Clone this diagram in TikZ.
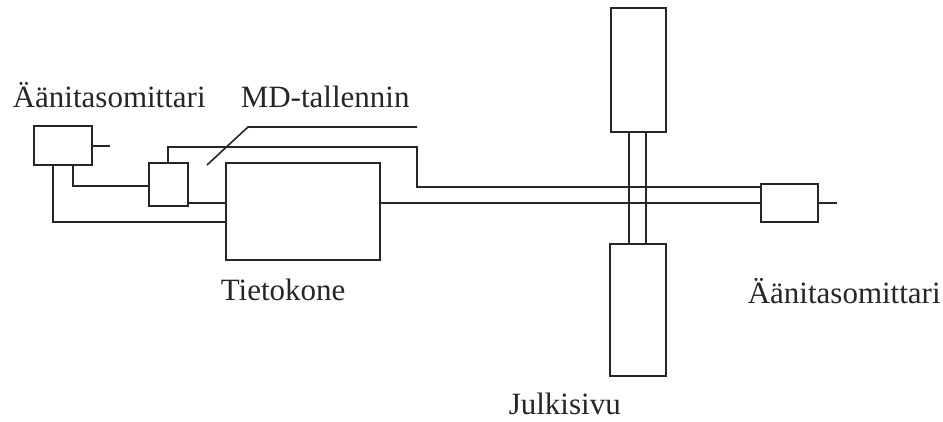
\documentclass[tikz,border=0pt]{standalone}
\usepackage{fontspec}
\setmainfont{Liberation Serif}
\begin{document}
\begin{tikzpicture}[x=1pt,y=-1pt, line width=1.6pt, draw=black!85, text=black!85,
  box/.style={draw, inner sep=0pt, outer sep=0pt},
  lbl/.style={anchor=base west, inner sep=0pt, font=\fontsize{31}{36}\selectfont}]
\useasboundingbox[fill=white] (0,0) rectangle (943,421);
% boxes
\node[box, minimum width=58pt, minimum height=39pt]  (mL) at (63,145.5) {};
\node[box, minimum width=39pt, minimum height=43pt]  (md) at (168.5,184.5) {};
\node[box, minimum width=154pt, minimum height=97pt] (pc) at (303,211.5) {};
\node[box, minimum width=55pt, minimum height=124pt] (wt) at (638.5,70) {};
\node[box, minimum width=17pt, minimum height=112pt] (wn) at (637.5,188) {};
\node[box, minimum width=56pt, minimum height=132pt] (wb) at (638,310) {};
\node[box, minimum width=57pt, minimum height=38pt]  (mR) at (789.5,203) {};
% labels
\node[lbl] (tL) at (12,107) {Äänitasomittari};
\node[lbl] (tMD) at (240,107) {MD-tallennin};
\node[lbl] (tPC) at (220,300) {Tietokone};
\node[lbl] (tR) at (747,303) {Äänitasomittari};
\node[lbl] (tJ) at (508,414) {Julkisivu};
% connectors
\coordinate (s1) at (110,146);
\draw (mL.east |- s1) -- (s1);
\coordinate (a1) at (73,186);
\draw (a1 |- mL.south) -- (a1) -- (a1 -| md.west);
\coordinate (a2) at (53,222);
\draw (a2 |- mL.south) -- (a2) -- (a2 -| pc.west);
\coordinate (a3) at (188,203);
\draw (md.east |- a3) -- (a3 -| pc.west);
\coordinate (b1) at (168,147);
\coordinate (b2) at (417,187);
\draw (b1 |- md.north) -- (b1) -- (b1 -| b2) -- (b2) -- (b2 -| mR.west);
\draw (pc.east |- mR.west) -- (mR.west);
\coordinate (s2) at (837,203);
\draw (mR.east) -- (s2);
\coordinate (d1) at (207,165);
\coordinate (d2) at (248,127);
\coordinate (d3) at (417,127);
\draw (d1) -- (d2) -- (d3);
\end{tikzpicture}
\end{document}
